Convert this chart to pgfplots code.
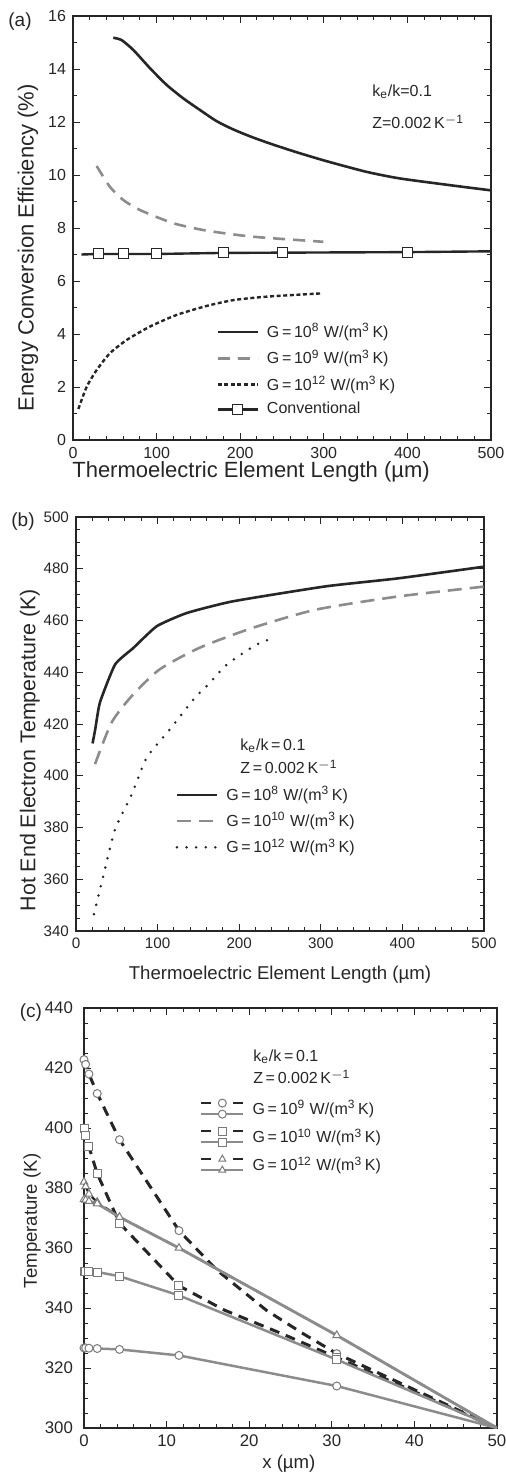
\documentclass[border=0pt]{standalone}
\usepackage{fontspec}
\setmainfont{Liberation Sans}
\usepackage{pgfplots}
\pgfplotsset{compat=1.18}
\definecolor{lgray}{HTML}{8C8C8C}
\definecolor{dk}{HTML}{262626}
\definecolor{mk}{HTML}{7A7A7A}
\pgfplotsset{
  myaxis/.style={
    scale only axis,
    axis line style={line width=0.6pt, dk},
    tick align=inside,
    major tick length=3.5pt, minor tick length=2pt,
    every tick/.style={dk, line width=0.5pt},
    /pgf/number format/assume math mode=true,
    tick label style={text=dk},
    label style={text=dk},
    legend style={draw=none, fill=none, inner sep=0pt, row sep=0.6pt,
      font=\fontsize{8}{9.6}\selectfont, text=dk, legend cell align=left},
    /tikz/every odd column/.append style={column sep=2pt},
    legend image code/.code={\draw[mark repeat=2,mark phase=2] plot coordinates {(0pt,0pt) (10pt,0pt) (20pt,0pt)};},
  },
}
\tikzset{anno/.style={anchor=west, font=\fontsize{8}{9.6}\selectfont, text=dk, inner sep=0pt}}
\begin{document}
\begin{tikzpicture}
\path[use as bounding box] (0,0) rectangle (253pt,-736pt);
\node[font=\fontsize{9.5}{11}\selectfont, text=dk] at (10pt,-11pt) {(a)};
\node[font=\fontsize{9.5}{11}\selectfont, text=dk] at (11.5pt,-261pt) {(b)};
\node[font=\fontsize{9.5}{11}\selectfont, text=dk] at (15.5pt,-506.5pt) {(c)};

% ---------------- (a)
\begin{axis}[myaxis, at={(36.5pt,-220pt)}, anchor=south west,
  width=209pt, height=212pt,
  xmin=0, xmax=500, ymin=0, ymax=16,
  xtick={0,100,...,500}, ytick={0,2,...,16},
  minor x tick num=4, minor y tick num=1,
  tick label style={font=\fontsize{8}{9.6}\selectfont},
  xlabel={Thermoelectric Element Length (µm)},
  ylabel={Energy Conversion Efficiency (\%)},
  xlabel style={font=\fontsize{11}{13}\selectfont, at={(axis description cs:0.426,-0.074)}, anchor=center},
  ylabel style={font=\fontsize{11}{13}\selectfont, at={(axis description cs:-0.108,0.453)}, anchor=center},
  legend style={at={(axis description cs:0.342,0.285)}, anchor=north west},
]
\addplot[dk, line width=1.3pt, smooth, tension=0.4] coordinates {
(48.2,15.18) (58.2,15.09) (72.1,14.72) (92.1,14.03) (112,13.4) (132,12.89) (152,12.45) (171.9,12.03) (191.7,11.72) (211.7,11.46) (231.7,11.23) (251.6,11.02) (271.5,10.82) (303.5,10.52) (351,10.12) (391,9.87) (450,9.62) (500,9.42)};
\addlegendentry{G\,=\,10\textsuperscript{8} W/(m\textsuperscript{3}\,K)}
\addplot[lgray, line width=1.3pt, dash pattern=on 6pt off 4pt, smooth, tension=0.4] coordinates {
(28.3,10.34) (44,9.56) (60,9.06) (80,8.68) (120,8.18) (160,7.9) (215.7,7.67) (299.4,7.48)};
\addlegendentry{G\,=\,10\textsuperscript{9} W/(m\textsuperscript{3}\,K)}
\addplot[dk, line width=1.2pt, dash pattern=on 2pt off 1.3pt, smooth, tension=0.4] coordinates {
(6.4,1.17) (16.4,2.01) (28.3,2.64) (44,3.27) (64,3.77) (92,4.28) (124,4.72) (160,5.06) (192,5.28) (232,5.41) (295.5,5.53)};
\addlegendentry{G\,=\,10\textsuperscript{12} W/(m\textsuperscript{3}\,K)}
\addplot[dk, line width=1.2pt, mark=square*, mark size=2.5pt, mark indices={2,3,4,5,6,7},
  mark options={fill=white, draw=dk, line width=0.5pt},
  legend image code/.code={\draw[mark=none] (0pt,0pt) -- (20pt,0pt); \draw[mark indices={1}] plot coordinates {(10pt,0pt)};}] coordinates {
(10,7.0) (30,7.02) (60,7.02) (100,7.02) (180,7.06) (250,7.07) (400,7.09) (500,7.12)};
\addlegendentry{Conventional}
\node[anno] at (axis description cs:0.715,0.821) {k\textsubscript{e}/k=0.1};
\node[anno] at (axis description cs:0.715,0.750) {Z=0.002\,K\textsuperscript{$-$1}};
\end{axis}

% ---------------- (b)
\begin{axis}[myaxis, at={(38pt,-465.5pt)}, anchor=south west,
  width=204pt, height=207pt,
  xmin=0, xmax=500, ymin=340, ymax=500,
  xtick={0,100,...,500}, ytick={340,360,...,500},
  minor x tick num=4, minor y tick num=3,
  tick label style={font=\fontsize{7.6}{9}\selectfont},
  xlabel={Thermoelectric Element Length (µm)},
  ylabel={Hot End Electron Temperature (K)},
  xlabel style={font=\fontsize{9.3}{11}\selectfont, at={(axis description cs:0.5,-0.106)}, anchor=center},
  ylabel style={font=\fontsize{10.7}{13}\selectfont, at={(axis description cs:-0.113,0.437)}, anchor=center},
  legend style={at={(axis description cs:0.243,0.36)}, anchor=north west},
]
\addplot[dk, line width=1.3pt, smooth, tension=0.3] coordinates {
(20.3,412.5) (23.6,418) (29.4,428.4) (47.9,443) (70.3,449.4) (99,457.8) (135.8,462.9) (192,467.4) (306,473.2) (395,476.3) (500,480.8)};
\addlegendentry{G\,=\,10\textsuperscript{8} W/(m\textsuperscript{3}\,K)}
\addplot[lgray, line width=1.3pt, dash pattern=on 7pt off 4pt, smooth, tension=0.4] coordinates {
(23.3,404.5) (43.5,420.5) (68,430.7) (102,441) (151,449.4) (216,457.1) (294,464.2) (395,469.3) (500,473.1)};
\addlegendentry{G\,=\,10\textsuperscript{10} W/(m\textsuperscript{3}\,K)}
\addplot[dk, line width=1.4pt, line cap=round, dash pattern=on 0pt off 4.8pt, smooth, tension=0.4] coordinates {
(22,346.5) (33.5,361.3) (47.9,379.3) (68.3,392.8) (86.7,407) (115,417.9) (144,429.5) (164,435.9) (185,443) (219.6,450.4) (242,453.3)};
\addlegendentry{G\,=\,10\textsuperscript{12} W/(m\textsuperscript{3}\,K)}
\node[anno] at (axis description cs:0.402,0.447) {k\textsubscript{e}/k\,=\,0.1};
\node[anno] at (axis description cs:0.402,0.396) {Z\,=\,0.002\,K\textsuperscript{$-$1}};
\end{axis}

% ---------------- (c)
\begin{axis}[myaxis, at={(42pt,-714pt)}, anchor=south west,
  width=206.5pt, height=210pt,
  xmin=0, xmax=50, ymin=300, ymax=440,
  xtick={0,10,...,50}, ytick={300,320,...,440},
  minor x tick num=4, minor y tick num=3,
  tick label style={font=\fontsize{8.4}{10}\selectfont},
  yticklabel style={xshift=-2pt},
  xlabel={x (µm)},
  ylabel={Temperature (K)},
  xlabel style={font=\fontsize{9.3}{11}\selectfont, at={(axis description cs:0.496,-0.086)}, anchor=center},
  ylabel style={font=\fontsize{9.3}{11}\selectfont, at={(axis description cs:-0.126,0.493)}, anchor=center},
  legend style={at={(axis description cs:0.28,0.79)}, anchor=north west, row sep=1.5pt},
]
% dashed (black) curves
\addplot[dk, line width=1.5pt, dash pattern=on 5pt off 3.5pt, mark=*, mark size=2pt, mark indices={1,2,3,4,5,6,10},
  mark options={solid, fill=white, draw=mk, line width=0.5pt}, forget plot] coordinates {
(0,422.8) (0.2,421.2) (0.6,418) (1.6,411.5) (4.3,396.1) (11.5,365.8) (16.1,352.6) (22.1,339.2) (26.5,331.5) (30.6,324.8) (50,300)};
\addplot[dk, line width=1.5pt, dash pattern=on 5pt off 3.5pt, mark=square*, mark size=2pt, mark indices={1,2,3,4,5,6,9},
  mark options={solid, fill=white, draw=mk, line width=0.5pt}, forget plot] coordinates {
(0,400) (0.2,397.6) (0.6,393.7) (1.6,384.8) (4.3,368.3) (11.5,347.4) (17,339.3) (24,331.4) (30.6,323.5) (50,300)};
\addplot[dk, line width=1.1pt, dash pattern=on 5pt off 3.5pt, mark=triangle*, mark size=2.2pt, mark indices={1,2,3,4},
  mark options={solid, fill=white, draw=mk, line width=0.5pt}, forget plot] coordinates {
(0,382) (0.2,380.5) (0.6,378) (1.6,375.3) (4.3,370.3) (11.5,360) (30.6,330.9) (50,300)};
% solid (gray) curves
\addplot[lgray, line width=1.25pt, mark=*, mark size=2pt, mark indices={1,2,3,4,5,6,7},
  mark options={fill=white, draw=mk, line width=0.5pt}, forget plot] coordinates {
(0,326.7) (0.2,326.7) (0.6,326.6) (1.6,326.5) (4.3,326.2) (11.5,324.2) (30.6,314) (50,300)};
\addplot[lgray, line width=1.25pt, mark=square*, mark size=2pt, mark indices={1,2,3,4,5,6,7},
  mark options={fill=white, draw=mk, line width=0.5pt}, forget plot] coordinates {
(0,352.2) (0.2,352.2) (0.6,352.1) (1.6,352) (4.3,350.6) (11.5,344.2) (30.6,322.8) (50,300)};
\addplot[lgray, line width=1.4pt, mark=triangle*, mark size=2.2pt, mark indices={1,2,3,4,5,6,7},
  mark options={fill=white, draw=mk, line width=0.5pt}, forget plot] coordinates {
(0,376.2) (0.2,376) (0.6,375.6) (1.6,374.8) (4.3,370.3) (11.5,360) (30.6,330.9) (50,300)};
\addlegendimage{legend image code/.code={
  \draw[dk, line width=1.3pt, dash pattern=on 5pt off 11pt] (0pt,3pt) -- (21pt,3pt);
  \draw[mark options={fill=white, draw=mk, line width=0.5pt, solid}] plot[only marks, mark=*, mark size=2pt] coordinates {(10.5pt,3pt)};
  \draw[lgray, line width=1.1pt] (0pt,-2.5pt) -- (21pt,-2.5pt);
  \draw[mark options={fill=white, draw=mk, line width=0.5pt, solid}] plot[only marks, mark=*, mark size=2pt] coordinates {(10.5pt,-2.5pt)};}}
\addlegendentry{G\,=\,10\textsuperscript{9} W/(m\textsuperscript{3}\,K)}
\addlegendimage{legend image code/.code={
  \draw[dk, line width=1.3pt, dash pattern=on 5pt off 11pt] (0pt,3pt) -- (21pt,3pt);
  \draw[mark options={fill=white, draw=mk, line width=0.5pt, solid}] plot[only marks, mark=square*, mark size=2pt] coordinates {(10.5pt,3pt)};
  \draw[lgray, line width=1.1pt] (0pt,-2.5pt) -- (21pt,-2.5pt);
  \draw[mark options={fill=white, draw=mk, line width=0.5pt, solid}] plot[only marks, mark=square*, mark size=2pt] coordinates {(10.5pt,-2.5pt)};}}
\addlegendentry{G\,=\,10\textsuperscript{10} W/(m\textsuperscript{3}\,K)}
\addlegendimage{legend image code/.code={
  \draw[dk, line width=1.3pt, dash pattern=on 5pt off 11pt] (0pt,3pt) -- (21pt,3pt);
  \draw[mark options={fill=white, draw=mk, line width=0.5pt, solid}] plot[only marks, mark=triangle*, mark size=2pt] coordinates {(10.5pt,3pt)};
  \draw[lgray, line width=1.1pt] (0pt,-2.5pt) -- (21pt,-2.5pt);
  \draw[mark options={fill=white, draw=mk, line width=0.5pt, solid}] plot[only marks, mark=triangle*, mark size=2pt] coordinates {(10.5pt,-2.5pt)};}}
\addlegendentry{G\,=\,10\textsuperscript{12} W/(m\textsuperscript{3}\,K)}
\node[anno] at (axis description cs:0.409,0.883) {k\textsubscript{e}/k\,=\,0.1};
\node[anno] at (axis description cs:0.409,0.836) {Z\,=\,0.002\,K\textsuperscript{$-$1}};
\end{axis}
\end{tikzpicture}
\end{document}
